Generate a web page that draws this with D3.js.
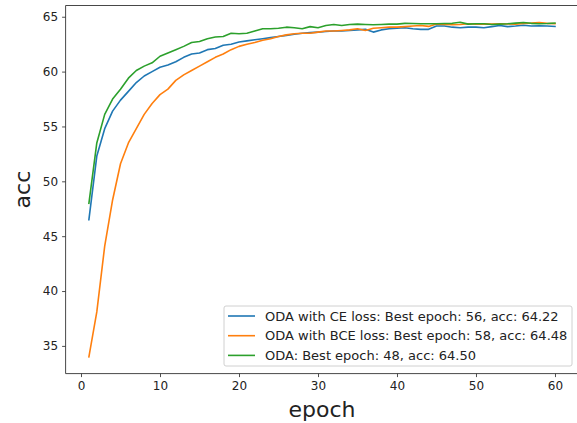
<!DOCTYPE html>
<html>
<head>
<meta charset="utf-8">
<script src="https://cdn.jsdelivr.net/npm/d3@7"></script>
<style>
  body { margin: 0; background: #fff; }
  svg { display: block; font-family: "DejaVu Sans", sans-serif; }
</style>
</head>
<body>
<div id="chart"></div>
<script>
// epochs 1..60
const epochs = d3.range(1, 61);

const ceAcc = [46.5, 52.3, 54.8, 56.4, 57.4, 58.2, 59.0, 59.6, 60.0, 60.4,
  60.6, 60.9, 61.3, 61.6, 61.7, 62.0, 62.1, 62.4, 62.5, 62.7,
  62.8, 62.9, 63.0, 63.1, 63.2, 63.3, 63.4, 63.5, 63.55, 63.6,
  63.65, 63.7, 63.7, 63.75, 63.8, 63.85, 63.6, 63.8, 63.9, 63.95,
  64.0, 63.9, 63.85, 63.85, 64.15, 64.15, 64.05, 64.0, 64.05, 64.05,
  64.0, 64.1, 64.2, 64.1, 64.15, 64.22, 64.15, 64.18, 64.15, 64.12];

const bceAcc = [34.0, 38.1, 44.1, 48.3, 51.6, 53.5, 54.8, 56.1, 57.1, 57.9,
  58.4, 59.2, 59.7, 60.1, 60.5, 60.9, 61.3, 61.6, 62.0, 62.3,
  62.5, 62.65, 62.85, 63.0, 63.2, 63.35, 63.45, 63.5, 63.5, 63.6,
  63.7, 63.7, 63.75, 63.8, 63.9, 63.75, 63.95, 64.0, 64.05, 64.05,
  64.1, 64.15, 64.2, 64.12, 64.33, 64.3, 64.27, 64.3, 64.36, 64.33,
  64.35, 64.33, 64.36, 64.34, 64.33, 64.4, 64.42, 64.48, 64.4, 64.36];

const odaAcc = [48.0, 53.5, 56.1, 57.5, 58.4, 59.4, 60.1, 60.5, 60.8, 61.4,
  61.7, 62.0, 62.3, 62.65, 62.75, 63.0, 63.15, 63.2, 63.5, 63.45,
  63.5, 63.7, 63.9, 63.9, 63.95, 64.05, 64.0, 63.9, 64.1, 64.0,
  64.2, 64.3, 64.2, 64.3, 64.33, 64.3, 64.27, 64.3, 64.33, 64.33,
  64.4, 64.38, 64.36, 64.36, 64.36, 64.38, 64.4, 64.5, 64.33, 64.36,
  64.36, 64.3, 64.33, 64.36, 64.42, 64.48, 64.4, 64.36, 64.38, 64.42];

const seriesNames = [
  "ODA with CE loss: Best epoch: 56, acc: 64.22",
  "ODA with BCE loss: Best epoch: 58, acc: 64.48",
  "ODA: Best epoch: 48, acc: 64.50"
];
const colors = ["#1f77b4", "#ff7f0e", "#2ca02c"];
const xTicks = [0, 10, 20, 30, 40, 50, 60];
const yTicks = [35, 40, 45, 50, 55, 60, 65];

const width = 577, height = 423;
const plot = { left: 65.6, top: 5.5, right: 578.3, bottom: 373.6 };

const svg = d3.select('#chart').append('svg')
  .attr('width', width)
  .attr('height', height);

const x = d3.scaleLinear().domain([-1.95, 62.95]).range([plot.left, plot.right]);
const y = d3.scaleLinear().domain([32.475, 66.025]).range([plot.bottom, plot.top]);

const series = [ceAcc, bceAcc, odaAcc];

const line = d3.line()
  .x((d, i) => x(epochs[i]))
  .y(d => y(d));

const lines = svg.append('g');
series.forEach((s, k) => {
  lines.append('path')
    .datum(s)
    .attr('d', line)
    .attr('fill', 'none')
    .attr('stroke', colors[k])
    .attr('stroke-width', 1.6)
    .attr('stroke-linejoin', 'round')
    .attr('stroke-linecap', 'square');
});

// axes
const xAxis = svg.append('g')
  .attr('transform', `translate(0,${plot.bottom})`)
  .call(d3.axisBottom(x).tickValues(xTicks).tickSize(3.5).tickPadding(4).tickFormat(d3.format('d')));
const yAxis = svg.append('g')
  .attr('transform', `translate(${plot.left},0)`)
  .call(d3.axisLeft(y).tickValues(yTicks).tickSize(3.5).tickPadding(4).tickFormat(d3.format('d')));

[xAxis, yAxis].forEach(a => {
  a.select('.domain').remove();
  a.selectAll('.tick line').attr('stroke', '#222').attr('stroke-width', 0.8);
  a.selectAll('.tick text')
    .attr('fill', '#222')
    .style('font-size', '12px')
    .style('font-family', '"DejaVu Sans", sans-serif');
});

// spines
svg.append('line').attr('x1', plot.left).attr('x2', plot.left)
  .attr('y1', plot.top).attr('y2', plot.bottom)
  .attr('stroke', '#333').attr('stroke-width', 0.9);
svg.append('line').attr('x1', plot.left).attr('x2', width)
  .attr('y1', plot.bottom).attr('y2', plot.bottom)
  .attr('stroke', '#333').attr('stroke-width', 0.9);
svg.append('line').attr('x1', plot.left).attr('x2', width)
  .attr('y1', plot.top).attr('y2', plot.top)
  .attr('stroke', '#333').attr('stroke-width', 0.9);

// axis titles
svg.append('text')
  .attr('x', (plot.left + 578.3) / 2)
  .attr('y', 417)
  .attr('text-anchor', 'middle')
  .attr('fill', '#222')
  .style('font-size', '22px')
  .text('epoch');

svg.append('text')
  .attr('transform', `translate(30,${(plot.top + plot.bottom) / 2}) rotate(-90)`)
  .attr('text-anchor', 'middle')
  .attr('fill', '#222')
  .style('font-size', '22px')
  .text('acc');

// legend
const legend = svg.append('g').attr('transform', 'translate(224,306)');
legend.append('rect')
  .attr('width', 348).attr('height', 60)
  .attr('rx', 2)
  .attr('fill', 'white').attr('fill-opacity', 0.8)
  .attr('stroke', '#d0d0d0').attr('stroke-width', 1);
seriesNames.forEach((name, k) => {
  const g = legend.append('g').attr('transform', `translate(0,${10 + k * 19.7})`);
  g.append('line')
    .attr('x1', 4).attr('x2', 31)
    .attr('stroke', colors[k]).attr('stroke-width', 1.6);
  g.append('text')
    .attr('x', 41).attr('dy', '0.36em')
    .attr('fill', '#222')
    .style('font-size', '13px')
    .text(name);
});
</script>
</body>
</html>
